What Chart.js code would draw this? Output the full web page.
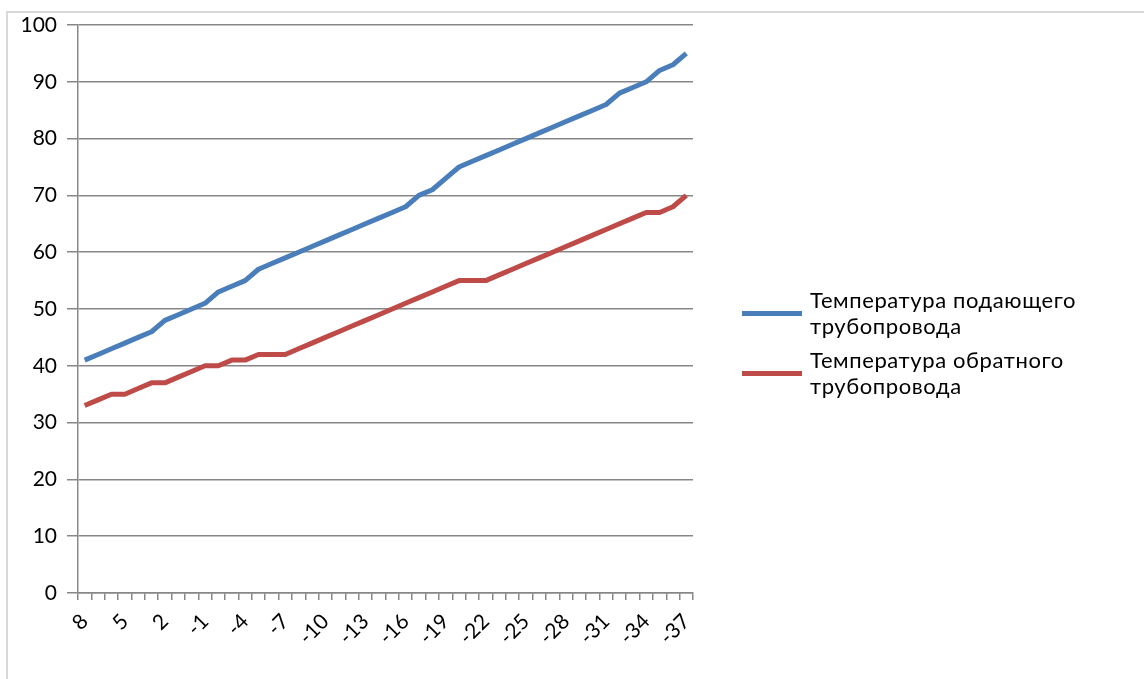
<!DOCTYPE html>
<html>
<head>
<meta charset="utf-8">
<script src="https://cdn.jsdelivr.net/npm/chart.js@4/dist/chart.umd.min.js"></script>
<style>
  body { margin: 0; background: #fff; }
  #wrap { position: relative; width: 1144px; height: 679px; }
  #frame { position: absolute; left: 6px; top: 11px; right: 0; bottom: 0;
           border-left: 2px solid #d9d9d9; border-top: 2px solid #d9d9d9; }
  #legend { position: absolute; left: 742px; top: 287px; font-family: Lato, sans-serif;
            font-size: 22px; letter-spacing: 0.6px; line-height: 26px; color: #000; }
  .item { display: flex; align-items: center; margin-bottom: 8px; }
  .swatch { width: 60px; height: 5px; margin-right: 8px; flex: none; }
</style>
</head>
<body>
<div id="wrap">
  <div id="frame"></div>
  <canvas id="myChart"></canvas>
  <div id="legend"></div>
</div>
<script>
// наружная температура, °C
var outdoor = ["8","7","6","5","4","3","2","1","0","-1","-2","-3","-4","-5","-6","-7",
  "-8","-9","-10","-11","-12","-13","-14","-15","-16","-17","-18","-19","-20","-21","-22",
  "-23","-24","-25","-26","-27","-28","-29","-30","-31","-32","-33","-34","-35","-36","-37"];

// подающий трубопровод
var supply = [41,42,43,44,45,46,48,49,50,51,53,54,55,57,58,59,
  60,61,62,63,64,65,66,67,68,70,71,73,75,76,77,
  78,79,80,81,82,83,84,85,86,88,89,90,92,93,95];

// обратный трубопровод
var ret = [33,34,35,35,36,37,37,38,39,40,40,41,41,42,42,42,
  43,44,45,46,47,48,49,50,51,52,53,54,55,55,55,
  56,57,58,59,60,61,62,63,64,65,66,67,67,68,70];

var yTicks = [0,10,20,30,40,50,60,70,80,90,100];

var gridColor = "#878787";

var ctx = document.getElementById("myChart").getContext('2d');

var myChart = new Chart(ctx, {
    type: 'line',
    data: {
        labels: outdoor,
        datasets: [
            {
                label: 'Температура подающего трубопровода',
                data: supply,
                borderColor: '#4a7ebb',
                backgroundColor: '#4a7ebb',
                borderWidth: 5,
                pointRadius: 0,
                tension: 0,
                borderJoinStyle: 'round'
            },
            {
                label: 'Температура обратного трубопровода',
                data: ret,
                borderColor: '#be4b48',
                backgroundColor: '#be4b48',
                borderWidth: 5,
                pointRadius: 0,
                tension: 0,
                borderJoinStyle: 'round'
            }
        ]
    },
    options: {
        responsive: true,
        maintainAspectRatio: false,
        animation: false,
        layout: {
            padding: { top: 25, right: 451, left: 0, bottom: 0 }
        },
        plugins: {
            legend: { display: false },
            tooltip: { enabled: false }
        },
        scales: {
            x: {
                offset: true,
                grid: {
                    offset: true,
                    drawOnChartArea: false,
                    drawTicks: true,
                    tickLength: 7,
                    color: gridColor,
                    lineWidth: 1.5
                },
                border: { display: true, color: gridColor, width: 1.5 },
                ticks: {
                    autoSkip: false,
                    minRotation: 45,
                    maxRotation: 45,
                    padding: 9,
                    color: "#000",
                    font: { family: "Lato", size: 21 },
                    callback: function (value, index) {
                        return index % 3 === 0 ? outdoor[index] : '';
                    }
                },
                afterFit: function (scale) { scale.height = 86; }
            },
            y: {
                min: yTicks[0],
                max: yTicks[yTicks.length - 1],
                grid: {
                    color: gridColor,
                    lineWidth: 1.5,
                    drawTicks: true,
                    tickLength: 11
                },
                border: { display: true, color: gridColor, width: 1.5 },
                afterBuildTicks: function (scale) {
                    scale.ticks = yTicks.map(function (v) { return { value: v }; });
                },
                ticks: {
                    padding: 10,
                    color: "#000",
                    font: { family: "Lato", size: 21 }
                },
                afterFit: function (scale) { scale.width = 78; }
            }
        }
    }
});

// легенда в две строки, как в исходнике
var leg = document.getElementById("legend");
myChart.data.datasets.forEach(function (ds) {
    var words = ds.label.split(' ');
    var item = document.createElement('div');
    item.className = 'item';
    var sw = document.createElement('div');
    sw.className = 'swatch';
    sw.style.background = ds.borderColor;
    var txt = document.createElement('div');
    txt.innerHTML = words.slice(0, 2).join(' ') + '<br>' + words.slice(2).join(' ');
    item.appendChild(sw);
    item.appendChild(txt);
    leg.appendChild(item);
});
</script>
</body>
</html>
